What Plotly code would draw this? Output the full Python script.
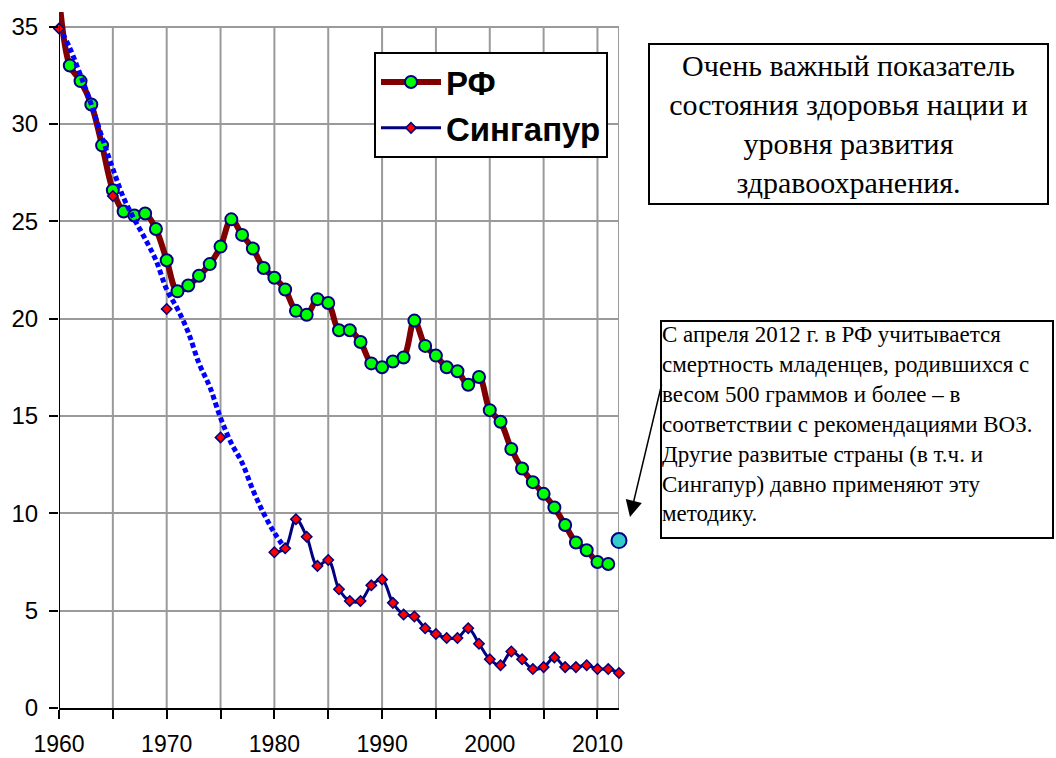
import plotly.graph_objects as go

# Infant mortality (per 1000 live births)
years_rf = list(range(1960, 2012))
rf_values = [36.6, 33.0, 32.2, 31.0, 28.9, 26.6, 25.5, 25.3, 25.4, 24.6,
             23.0, 21.4, 21.7, 22.2, 22.8, 23.7, 25.1, 24.3, 23.6, 22.6,
             22.1, 21.5, 20.4, 20.2, 21.0, 20.8, 19.4, 19.4, 18.8, 17.7,
             17.5, 17.8, 18.0, 19.9, 18.6, 18.1, 17.5, 17.3, 16.6, 17.0,
             15.3, 14.7, 13.3, 12.3, 11.6, 11.0, 10.3, 9.4, 8.5, 8.1,
             7.5, 7.4]

# 2012: new (WHO) counting method in RF
rf_new_year = [2012]
rf_new_value = [8.6]

# Singapore: five-year points, then annual series
sg_early_years = [1960, 1965, 1970, 1975]
sg_early_values = [34.9, 26.3, 20.5, 13.9]

sg_years = list(range(1980, 2013))
sg_values = [8.0, 8.2, 9.7, 8.8, 7.3, 7.6, 6.1, 5.5, 5.5, 6.3,
             6.6, 5.4, 4.8, 4.7, 4.1, 3.8, 3.6, 3.6, 4.1, 3.3,
             2.5, 2.2, 2.9, 2.5, 2.0, 2.1, 2.6, 2.1, 2.1, 2.2,
             2.0, 2.0, 1.8]

# Smoothed trend curve for Singapore 1960-1981
sg_trend_years = list(range(1960, 1982))
sg_trend_values = [35.0, 33.9, 32.5, 31.0, 29.3, 27.7, 26.2, 25.1, 24.1, 23.0,
                   21.5, 20.5, 19.3, 17.7, 16.5, 14.9, 13.6, 12.6, 11.2, 10.0,
                   9.0, 8.2]

y_ticks = [0, 5, 10, 15, 20, 25, 30, 35]
x_ticks = list(range(1960, 2011, 5))
x_ticktext = [str(v) if v % 10 == 0 else "" for v in x_ticks]

X_MIN, X_MAX = 1960, 2012
Y_MIN, Y_MAX, Y_TOP = 0, 35, 35.75

NAVY = "#000080"
GRID = "#9a9a9a"

fig = go.Figure()

fig.add_trace(go.Scatter(
    x=years_rf, y=rf_values, name="РФ", mode="lines+markers",
    line=dict(color="#800000", width=6, shape="spline", smoothing=1),
    marker=dict(symbol="circle", size=12, color="#00ff00",
                line=dict(color=NAVY, width=2)),
    legendgroup="a",
))

fig.add_trace(go.Scatter(
    x=sg_trend_years, y=sg_trend_values, mode="lines", showlegend=False,
    line=dict(color="#0000ff", width=5, dash="5px,3px", shape="spline", smoothing=1),
    hoverinfo="skip",
))

fig.add_trace(go.Scatter(
    x=sg_early_years, y=sg_early_values, mode="markers", showlegend=False,
    marker=dict(symbol="diamond", size=8, color="#ff0000",
                line=dict(color=NAVY, width=1.5)),
    cliponaxis=False,
))

fig.add_trace(go.Scatter(
    x=sg_years, y=sg_values, name="Сингапур", mode="lines+markers",
    line=dict(color=NAVY, width=3, shape="spline", smoothing=1),
    marker=dict(symbol="diamond", size=8, color="#ff0000",
                line=dict(color=NAVY, width=1.5)),
    cliponaxis=False, legendgroup="b",
))

fig.add_trace(go.Scatter(
    x=rf_new_year, y=rf_new_value, mode="markers", showlegend=False,
    marker=dict(symbol="circle", size=15, color="#33cccc",
                line=dict(color=NAVY, width=2)),
    cliponaxis=False,
))

shapes = []
# vertical grid lines, limited to the 0..35 band
for xv in x_ticks[1:]:
    shapes.append(dict(type="line", xref="x", yref="y", x0=xv, x1=xv,
                       y0=Y_MIN, y1=Y_MAX, layer="below",
                       line=dict(color=GRID, width=2)))
# right border of the plot area
shapes.append(dict(type="line", xref="x", yref="y", x0=X_MAX, x1=X_MAX,
                   y0=Y_MIN, y1=Y_MAX, layer="below",
                   line=dict(color=GRID, width=2)))
# value axis line
shapes.append(dict(type="line", xref="x", yref="y", x0=X_MIN, x1=X_MIN,
                   y0=Y_MIN, y1=Y_MAX, layer="above",
                   line=dict(color="black", width=2)))

annotations = [
    dict(xref="paper", yref="paper", x=1.0518, y=0.9555,
         xanchor="left", yanchor="top",
         text="Очень важный показатель<br>состояния здоровья нации и<br>"
              "уровня развития<br>здравоохранения.",
         showarrow=False, align="center", valign="middle",
         width=397, height=158, bordercolor="black", borderwidth=2,
         borderpad=0, bgcolor="white",
         font=dict(family="Liberation Serif", size=30, color="black")),
    dict(xref="paper", yref="paper", x=1.0732, y=0.5575,
         xanchor="left", yanchor="top",
         text="С апреля 2012 г. в РФ учитывается<br>"
              "смертность младенцев, родившихся с<br>"
              "весом 500 граммов и более – в<br>"
              "соответствии с рекомендациями ВОЗ.<br>"
              "Другие развитые страны (в т.ч. и<br>"
              "Сингапур) давно применяют эту<br>"
              "методику.",
         showarrow=False, align="left", valign="top",
         width=390, height=215, bordercolor="black", borderwidth=2,
         borderpad=0, bgcolor="white",
         font=dict(family="Liberation Serif", size=23, color="black")),
    dict(xref="paper", yref="paper", x=1.0196, y=0.2744,
         text="", showarrow=True, axref="pixel", ayref="pixel",
         ax=32, ay=-134, arrowhead=2, arrowsize=2.2, arrowwidth=1.5,
         arrowcolor="black", standoff=0),
]

fig.update_layout(
    width=1056, height=758,
    margin=dict(l=59, r=437, t=12, b=50),
    paper_bgcolor="white", plot_bgcolor="white",
    font=dict(family="Arial", color="black"),
    shapes=shapes, annotations=annotations,
    showlegend=True,
    legend=dict(x=0.5625, y=0.9425, xanchor="left", yanchor="top",
                bgcolor="white", bordercolor="black", borderwidth=2,
                font=dict(family="Arial", size=33, color="black", weight="bold"),
                traceorder="grouped", tracegroupgap=0, itemwidth=60),
)

fig.update_xaxes(
    range=[X_MIN, X_MAX], tickvals=x_ticks, ticktext=x_ticktext,
    showgrid=False, zeroline=False, showline=True, linecolor="black", linewidth=2,
    ticks="outside", ticklen=9, tickwidth=2, tickcolor="black",
    tickfont=dict(family="Arial", size=23, color="black"), ticklabelstandoff=5,
    automargin=False,
)
fig.update_yaxes(
    range=[Y_MIN, Y_TOP], tickvals=y_ticks,
    showgrid=True, gridcolor=GRID, gridwidth=2, zeroline=False, showline=False,
    ticks="outside", ticklen=9, tickwidth=2, tickcolor="black",
    tickfont=dict(family="Arial", size=24, color="black"), ticklabelstandoff=6,
    automargin=False,
)

fig.write_html("out.html")
